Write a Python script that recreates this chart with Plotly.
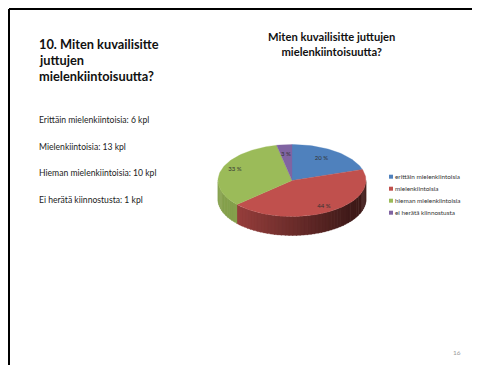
import math
import plotly.graph_objects as go

categories = ["erittäin mielenkiintoisia", "mielenkiintoisia", "hieman mielenkiintoisia", "ei herätä kiinnostusta"]
counts = [6, 13, 10, 1]
percent_labels = ["20 %", "44 %", "33 %", "3 %"]
colors = ["#4F81BD", "#C0504D", "#9BBB59", "#8064A2"]

chart_title = "Miten kuvailisitte juttujen<br>mielenkiintoisuutta?"
slide_title = ["10. Miten kuvailisitte", "juttujen", "mielenkiintoisuutta?"]
slide_lines = ["Erittäin mielenkiintoisia: 6 kpl", "Mielenkiintoisia: 13 kpl",
               "Hieman mielenkiintoisia: 10 kpl", "Ei herätä kiinnostusta: 1 kpl"]
page_number = "16"

FONT = "Lato"
cx, cy, rx, ry, depth = 292.0, 180.5, 74.0, 36.0, 19.0

def shade(hex_c, f):
    r, g, b = int(hex_c[1:3], 16), int(hex_c[3:5], 16), int(hex_c[5:7], 16)
    return f"rgb({int(r*f)},{int(g*f)},{int(b*f)})"

def pt(a):
    return cx + rx * math.sin(a), cy - ry * math.cos(a)

fig = go.Figure()
total = sum(counts)
start = 0.0
spans = []
for v in counts:
    end = start + 2 * math.pi * v / total
    spans.append((start, end))
    start = end

# side wall: visible where the angle is in the lower half of the ellipse
for i, (a0, a1) in enumerate(spans):
    lo, hi = max(a0, math.pi / 2), min(a1, 3 * math.pi / 2)
    if hi <= lo:
        continue
    n = max(2, int((hi - lo) / 0.05))
    for k in range(n):
        b0 = lo + (hi - lo) * k / n
        b1 = lo + (hi - lo) * (k + 1) / n + 0.01
        x0, y0 = pt(b0)
        x1, y1 = pt(b1)
        xm = (x0 + x1) / 2
        if i == 1:
            t = (xm - (cx - rx * 0.8)) / (1.6 * rx)
            f = 0.80 - 0.47 * min(max(t, 0), 1)
            col = shade(colors[1], f)
        else:
            col = shade(colors[i], 0.86)
        fig.add_trace(go.Scatter(x=[x0, x1, x1, x0, x0], y=[y0, y1, y1 + depth, y0 + depth, y0],
                                 mode="lines", fill="toself", fillcolor=col, line=dict(width=0.3, color=col),
                                 hoverinfo="skip", showlegend=False))

# top face
for i, (a0, a1) in enumerate(spans):
    n = max(4, int((a1 - a0) / 0.03))
    xs, ys = [cx], [cy]
    for k in range(n + 1):
        x, y = pt(a0 + (a1 - a0) * k / n)
        xs.append(x)
        ys.append(y)
    xs.append(cx)
    ys.append(cy)
    fig.add_trace(go.Scatter(x=xs, y=ys, mode="lines", fill="toself", fillcolor=colors[i],
                             line=dict(width=0.3, color=colors[i]), name=categories[i],
                             hoverinfo="skip", showlegend=False))

# percent labels
lab_pos = [(321.5, 158), (324, 206), (235, 169), (286, 154)]
fig.add_trace(go.Scatter(x=[p[0] for p in lab_pos], y=[p[1] for p in lab_pos], mode="text",
                         text=percent_labels, textfont=dict(family=FONT, size=6, color="#333333"),
                         hoverinfo="skip", showlegend=False))

# legend
for i, c in enumerate(categories):
    y = 176.7 + i * 12
    fig.add_trace(go.Scatter(x=[391], y=[y], mode="markers",
                             marker=dict(symbol="square", size=4, color=colors[i]),
                             hoverinfo="skip", showlegend=False))
    fig.add_annotation(x=392.5, y=y, text=c, showarrow=False, xanchor="left", yanchor="middle",
                       font=dict(family=FONT, size=6.4, color="#333333"))

fig.add_annotation(x=331, y=43.5, text=f"<b>{chart_title}</b>", showarrow=False, xanchor="center", yanchor="middle",
                   align="center", font=dict(family=FONT, size=11.2, color="#111111"))
for i, s in enumerate(slide_title):
    fig.add_annotation(x=36.5, y=43.5 + i * 16, text=f"<b>{s}</b>", showarrow=False, xanchor="left", yanchor="middle",
                       font=dict(family=FONT, size=12.8, color="#111111"))
for i, s in enumerate(slide_lines):
    fig.add_annotation(x=36.5, y=120 + i * 26.7, text=s, showarrow=False, xanchor="left", yanchor="middle",
                       font=dict(family=FONT, size=8.6, color="#222222"))
fig.add_annotation(x=456.5, y=352, text=page_number, showarrow=False, font=dict(family=FONT, size=6.5, color="#999999"))

frame = dict(color="#000000", width=2)
fig.add_shape(type="line", x0=9, x1=488, y0=9, y1=9, line=frame, layer="below")
fig.add_shape(type="line", x0=9, x1=9, y0=9, y1=373, line=frame, layer="below")

# the page body adds an 8 px offset, so the axes start at 8
fig.update_layout(width=480, height=365, margin=dict(l=0, r=0, t=0, b=0), paper_bgcolor="white", plot_bgcolor="white",
                  showlegend=False,
                  xaxis=dict(range=[8, 488], visible=False, fixedrange=True),
                  yaxis=dict(range=[373, 8], visible=False, fixedrange=True))
fig.write_html("out.html", config={"displayModeBar": False})
